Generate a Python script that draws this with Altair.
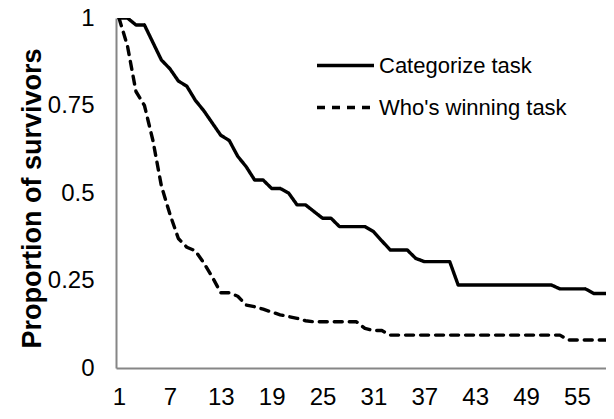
import altair as alt
import pandas as pd

days = list(range(1, 60))

categorize = [1.0, 1.0, 0.98, 0.98, 0.93, 0.88, 0.855, 0.82, 0.805, 0.765,
              0.735, 0.70, 0.665, 0.65, 0.605, 0.575, 0.537, 0.537, 0.513, 0.513,
              0.50, 0.466, 0.466, 0.447, 0.428, 0.428, 0.404, 0.404, 0.404, 0.404,
              0.39, 0.363, 0.337, 0.337, 0.337, 0.313, 0.304, 0.304, 0.304, 0.304,
              0.237, 0.237, 0.237, 0.237, 0.237, 0.237, 0.237, 0.237, 0.237, 0.237,
              0.237, 0.237, 0.226, 0.226, 0.226, 0.226, 0.213, 0.213, 0.213]

whos_winning = [1.0, 0.92, 0.79, 0.75, 0.65, 0.52, 0.44, 0.37, 0.345, 0.335,
                0.30, 0.26, 0.215, 0.215, 0.205, 0.18, 0.175, 0.168, 0.16, 0.152,
                0.147, 0.142, 0.135, 0.132, 0.132, 0.132, 0.132, 0.132, 0.132, 0.113,
                0.107, 0.107, 0.094, 0.094, 0.094, 0.094, 0.094, 0.094, 0.094, 0.094,
                0.094, 0.094, 0.094, 0.094, 0.094, 0.094, 0.094, 0.094, 0.094, 0.094,
                0.094, 0.094, 0.094, 0.08, 0.08, 0.08, 0.08, 0.08, 0.08]

series_names = ["Categorize task", "Who's winning task"]
x_ticks = [1, 7, 13, 19, 25, 31, 37, 43, 49, 55]
y_ticks = [0, 0.25, 0.5, 0.75, 1]

df = pd.DataFrame({
    "day": days + days,
    "proportion": categorize + whos_winning,
    "task": [series_names[0]] * len(days) + [series_names[1]] * len(days),
})

FONT = "Liberation Sans"

chart = alt.Chart(df).mark_line(
    color="black", strokeWidth=3.4, clip=True, strokeCap="round", strokeJoin="round"
).encode(
    x=alt.X("day:Q",
            scale=alt.Scale(domain=[0.646, 58.43], nice=False, zero=False),
            axis=alt.Axis(values=x_ticks, title=None, grid=False, ticks=False,
                          labelFontSize=24, labelPadding=17, labelColor="black",
                          labelFont=FONT, labelFlush=False,
                          domainColor="#868686", domainWidth=2)),
    y=alt.Y("proportion:Q",
            scale=alt.Scale(domain=[0, 1], nice=False),
            axis=alt.Axis(values=y_ticks, labelExpr="'' + datum.value",
                          grid=False, ticks=False,
                          labelFontSize=24, labelPadding=22, labelColor="black",
                          labelFont=FONT, labelFlush=False,
                          domainColor="#868686", domainWidth=2,
                          title="Proportion of survivors", titleFont=FONT,
                          titleFontSize=27, titleFontWeight="bold", titleColor="black",
                          titleX=-84, titleY=180, titleAngle=270,
                          titleBaseline="middle", titleAlign="center")),
    strokeDash=alt.StrokeDash(
        "task:N",
        scale=alt.Scale(domain=series_names, range=[[1, 0], [8, 7]]),
        legend=alt.Legend(title=None, orient="none", legendX=199, legendY=17,
                          symbolType="stroke", symbolSize=3249,
                          symbolStrokeWidth=3.4, symbolStrokeColor="black",
                          labelFontSize=22, labelFont=FONT, labelColor="black",
                          labelLimit=400, labelOffset=3, rowPadding=-3, padding=0)),
).properties(
    width=490, height=350,
    autosize=alt.AutoSizeParams(type="none"),
    padding={"left": 108, "top": 10, "right": 0, "bottom": 43},
).configure_view(stroke=None)

chart.save("out.html", embed_options={"renderer": "svg", "actions": False})
